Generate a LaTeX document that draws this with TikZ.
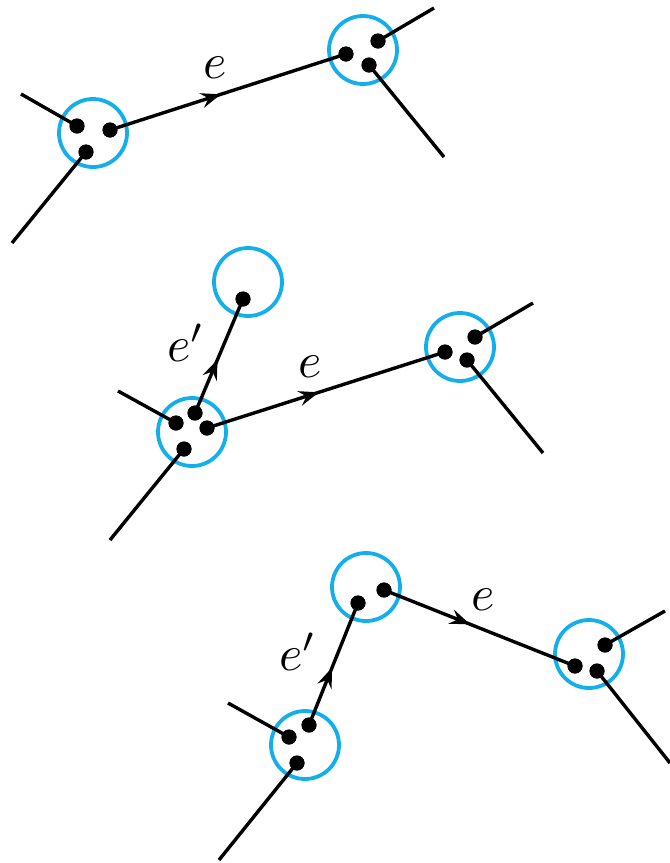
\documentclass[tikz,border=0pt]{standalone}
\usepackage{graphicx}
\usetikzlibrary{arrows.meta,decorations.markings}
\definecolor{vcyan}{RGB}{20,175,235}
\tikzset{
  blob/.style={circle,draw=vcyan,line width=3.8pt,minimum size=68pt,inner sep=0pt},
  dot/.style={circle,fill=black,minimum size=15pt,inner sep=0pt},
  leg/.style={line width=3.4pt,black},
  arr/.style={line width=3.4pt,black,postaction={decorate},
    decoration={markings,mark=at position #1 with {\arrow{Stealth[length=20pt,width=15pt,inset=7pt]}}}},
  lab/.style={inner sep=0pt}
}
\newcommand{\biglab}[1]{\scalebox{5}{$#1$}}
\begin{document}
\begin{tikzpicture}[x=1pt,y=-1pt]
\useasboundingbox (0,0) rectangle (670,863);
% ---------- top ----------
\node[blob] (A) at (93,133) {};
\node[blob] (B) at (363,50) {};
\coordinate (a1) at (21,94); \coordinate (a2) at (12,243);
\coordinate (b1) at (434,8); \coordinate (b2) at (444,157);
\node[dot] (A1) at (77,126) {};
\node[dot] (A2) at (110,130) {};
\node[dot] (A3) at (86,152) {};
\node[dot] (B1) at (346,54) {};
\node[dot] (B2) at (378,41) {};
\node[dot] (B3) at (369,65) {};
\draw[leg] (a1) -- (A1.center);
\draw[leg] (a2) -- (A3.center);
\draw[leg] (b1) -- (B2.center);
\draw[leg] (b2) -- (B3.center);
\draw[arr=0.47] (A2.center) -- (B1.center);
\node[lab] (l1) at (215,68) {\biglab{e}};
% ---------- middle ----------
\node[blob] (C) at (192,432) {};
\node[blob] (D) at (248,282) {};
\node[blob] (E) at (460,347) {};
\coordinate (c1) at (118,391); \coordinate (c2) at (110,540);
\coordinate (e1) at (533,303); \coordinate (e2) at (543,453);
\node[dot] (C1) at (176,423) {};
\node[dot] (C2) at (195,413) {};
\node[dot] (C3) at (207,428) {};
\node[dot] (C4) at (184,449) {};
\node[dot] (D1) at (243,299) {};
\node[dot] (E1) at (445,352) {};
\node[dot] (E2) at (475,337) {};
\node[dot] (E3) at (467,360) {};
\draw[leg] (c1) -- (C1.center);
\draw[leg] (c2) -- (C4.center);
\draw[leg] (e1) -- (E2.center);
\draw[leg] (e2) -- (E3.center);
\draw[arr=0.47] (C2.center) -- (D1.center);
\draw[arr=0.47] (C3.center) -- (E1.center);
\node[lab] (l2) at (186,343) {\biglab{e'}};
\node[lab] (l3) at (310,367) {\biglab{e}};
% ---------- bottom ----------
\node[blob] (F) at (305,745) {};
\node[blob] (G) at (366,587) {};
\node[blob] (H) at (589,654) {};
\coordinate (f1) at (228,703); \coordinate (f2) at (219,860);
\coordinate (h1) at (665,611); \coordinate (h2) at (670,763);
\node[dot] (F1) at (289,737) {};
\node[dot] (F2) at (309,725) {};
\node[dot] (F3) at (297,763) {};
\node[dot] (G1) at (358,603) {};
\node[dot] (G2) at (384,590) {};
\node[dot] (H1) at (575,666) {};
\node[dot] (H2) at (605,645) {};
\node[dot] (H3) at (597,671) {};
\draw[leg] (f1) -- (F1.center);
\draw[leg] (f2) -- (F3.center);
\draw[leg] (h1) -- (H2.center);
\draw[leg] (h2) -- (H3.center);
\draw[arr=0.47] (F2.center) -- (G1.center);
\draw[arr=0.45] (G2.center) -- (H1.center);
\node[lab] (l4) at (298,652) {\biglab{e'}};
\node[lab] (l5) at (483,600) {\biglab{e}};
% redraw dots on top
\foreach \n in {A1,A2,A3,B1,B2,B3,C1,C2,C3,C4,D1,E1,E2,E3,F1,F2,F3,G1,G2,H1,H2,H3}
  \fill (\n) circle (7.5pt);
\end{tikzpicture}
\end{document}
